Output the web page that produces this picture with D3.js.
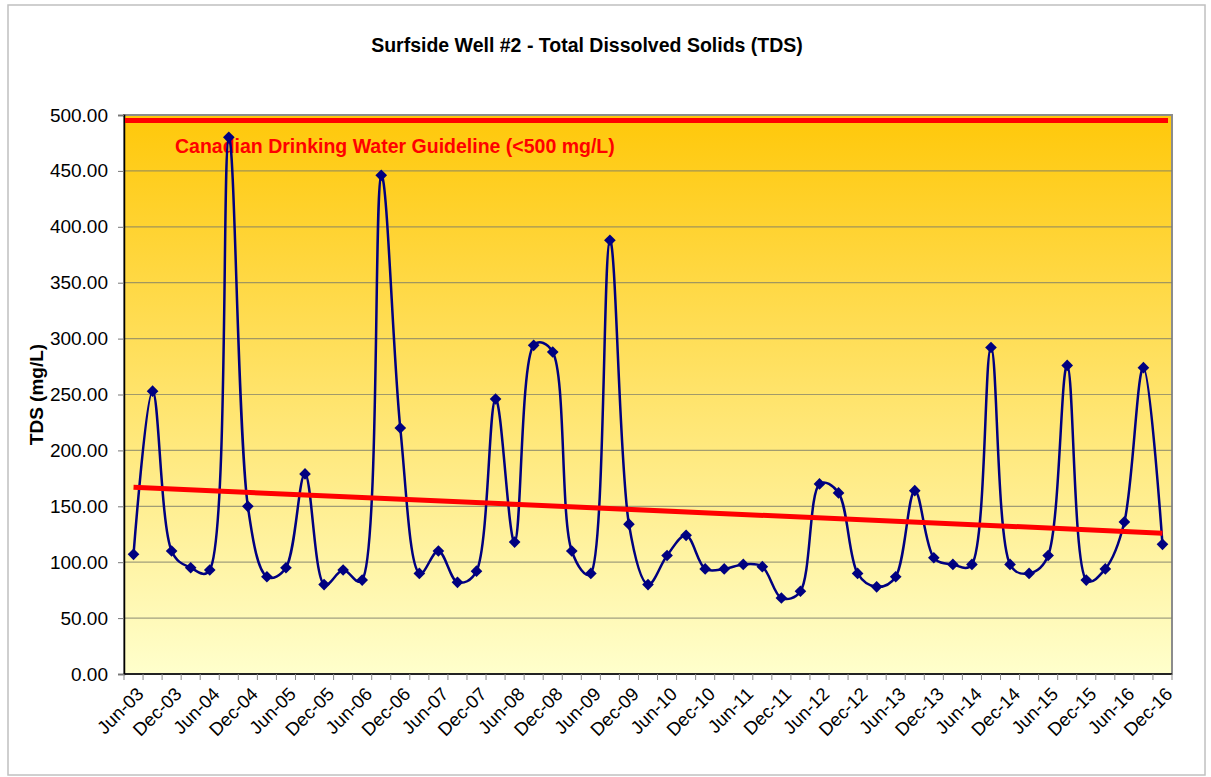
<!DOCTYPE html>
<html>
<head>
<meta charset="utf-8">
<script src="https://cdn.jsdelivr.net/npm/d3@7"></script>
<style>
  body { margin: 0; background: #fff; }
  svg { display: block; font-family: "Liberation Sans", Arial, sans-serif; }
</style>
</head>
<body>
<svg id="chart" width="1211" height="777"></svg>
<script>
// quarterly sample dates
var quarters = [
  "Jun-03","Sep-03","Dec-03","Mar-04","Jun-04","Sep-04","Dec-04","Mar-05","Jun-05","Sep-05",
  "Dec-05","Mar-06","Jun-06","Sep-06","Dec-06","Mar-07","Jun-07","Sep-07","Dec-07","Mar-08",
  "Jun-08","Sep-08","Dec-08","Mar-09","Jun-09","Sep-09","Dec-09","Mar-10","Jun-10","Sep-10",
  "Dec-10","Mar-11","Jun-11","Sep-11","Dec-11","Mar-12","Jun-12","Sep-12","Dec-12","Mar-13",
  "Jun-13","Sep-13","Dec-13","Mar-14","Jun-14","Sep-14","Dec-14","Mar-15","Jun-15","Sep-15",
  "Dec-15","Mar-16","Jun-16","Sep-16","Dec-16"
];

// TDS (mg/L)
var tds = [
  107, 253, 110, 95, 93, 480, 150, 87, 95, 179,
  80, 93, 84, 446, 220, 90, 110, 82, 92, 246,
  118, 294, 288, 110, 90, 388, 134, 80, 106, 124,
  94, 94, 98, 96, 68, 74, 170, 162, 90, 78,
  87, 164, 104, 98, 98, 292, 98, 90, 106, 276,
  84, 94, 136, 274, 116
];

// labels shown on the x axis (every second quarter)
var xTickLabels = [
  "Jun-03","Dec-03","Jun-04","Dec-04","Jun-05","Dec-05","Jun-06","Dec-06","Jun-07","Dec-07",
  "Jun-08","Dec-08","Jun-09","Dec-09","Jun-10","Dec-10","Jun-11","Dec-11","Jun-12","Dec-12",
  "Jun-13","Dec-13","Jun-14","Dec-14","Jun-15","Dec-15","Jun-16","Dec-16"
];

var yTicks = [0, 50, 100, 150, 200, 250, 300, 350, 400, 450, 500];

// linear trend (start, end) and guideline level
var trendValues = [167, 126];
var guidelineValue = 495;

var svg = d3.select("#chart"),
    margin = {top: 115, right: 39, bottom: 103, left: 124},
    width = 1211 - margin.left - margin.right,
    height = 777 - margin.top - margin.bottom;

// outer chart border
svg.append("rect")
    .attr("x", 8).attr("y", 5)
    .attr("width", 1197).attr("height", 770)
    .attr("fill", "#fff")
    .attr("stroke", "#c0c0c0")
    .attr("stroke-width", 1.5);

// title
svg.append("text")
    .attr("x", 587).attr("y", 52)
    .attr("text-anchor", "middle")
    .style("font-size", "19.5px")
    .style("font-weight", "bold")
    .text("Surfside Well #2 - Total Dissolved Solids (TDS)");

var defs = svg.append("defs");
var grad = defs.append("linearGradient")
    .attr("id", "bg").attr("x1", 0).attr("y1", 0).attr("x2", 0).attr("y2", 1);
grad.append("stop").attr("offset", "0%").attr("stop-color", "#ffc80a");
grad.append("stop").attr("offset", "100%").attr("stop-color", "#ffffcc");

var g = svg.append("g").attr("transform", "translate(" + margin.left + "," + margin.top + ")");

// scales
var x = d3.scaleBand().domain(quarters).range([0, width]).padding(0);
var y = d3.scaleLinear().domain([0, 500]).range([height, 0]);
var cx = function(q) { return x(q) + x.bandwidth() / 2; };

// plot background + border
g.append("rect")
    .attr("width", width).attr("height", height)
    .attr("fill", "url(#bg)")
    .attr("stroke", "#8c8c8c")
    .attr("stroke-width", 2);

// gridlines
g.append("g")
    .selectAll("line")
    .data(yTicks.filter(function(d) { return d > 0 && d < 500; }))
    .enter().append("line")
    .attr("x1", 0).attr("x2", width)
    .attr("y1", function(d) { return y(d); })
    .attr("y2", function(d) { return y(d); })
    .attr("stroke", "#7a7a6a")
    .attr("stroke-opacity", 0.7)
    .attr("stroke-width", 1.2);

// y axis
var yAxis = g.append("g")
    .call(d3.axisLeft(y).tickValues(yTicks).tickFormat(d3.format(".2f")).tickSize(6).tickPadding(10));
yAxis.select(".domain").attr("stroke", "#000").attr("stroke-width", 1.5);
yAxis.selectAll(".tick line").attr("stroke", "#777");
yAxis.selectAll("text").style("font-size", "19px").attr("fill", "#000").attr("font-family", null);

// axis title
svg.append("text")
    .attr("transform", "translate(43," + (margin.top + height / 2) + ") rotate(-90)")
    .attr("text-anchor", "middle")
    .style("font-size", "19px")
    .style("font-weight", "bold")
    .text("TDS (mg/L)");

// x axis line + ticks between categories
var xAxis = g.append("g").attr("transform", "translate(0," + height + ")");
xAxis.append("line")
    .attr("x1", 0).attr("x2", width)
    .attr("stroke", "#000").attr("stroke-width", 1.5);
xAxis.selectAll(".qtick")
    .data(quarters.concat([null]))
    .enter().append("line")
    .attr("class", "qtick")
    .attr("x1", function(d) { return d === null ? width : x(d); })
    .attr("x2", function(d) { return d === null ? width : x(d); })
    .attr("y1", 0).attr("y2", 6)
    .attr("stroke", "#888");
xAxis.selectAll(".xlabel")
    .data(xTickLabels)
    .enter().append("text")
    .attr("class", "xlabel")
    .attr("transform", function(d) { return "translate(" + (cx(d) + 2) + ",12) rotate(-45)"; })
    .attr("text-anchor", "end")
    .attr("dy", "0.7em")
    .style("font-size", "18.5px")
    .text(function(d) { return d; });

// guideline
g.append("line")
    .attr("x1", 1).attr("x2", width - 4)
    .attr("y1", y(guidelineValue)).attr("y2", y(guidelineValue))
    .attr("stroke", "#ff0000")
    .attr("stroke-width", 5);

g.append("text")
    .attr("x", 51).attr("y", 38)
    .attr("fill", "#ff0000")
    .style("font-size", "19.5px")
    .style("font-weight", "bold")
    .text("Canadian Drinking Water Guideline (<500 mg/L)");

// smoothed data line
var line = d3.line()
    .x(function(d, i) { return cx(quarters[i]); })
    .y(function(d) { return y(d); })
    .curve(d3.curveCatmullRom.alpha(0.4));

g.append("path")
    .datum(tds)
    .attr("d", line)
    .attr("fill", "none")
    .attr("stroke", "#000080")
    .attr("stroke-width", 2.5);

// trend line
g.append("line")
    .attr("x1", cx(quarters[0])).attr("x2", cx(quarters[quarters.length - 1]))
    .attr("y1", y(trendValues[0])).attr("y2", y(trendValues[1]))
    .attr("stroke", "#ff0000")
    .attr("stroke-width", 5);

// markers
g.selectAll(".pt")
    .data(tds)
    .enter().append("path")
    .attr("class", "pt")
    .attr("d", d3.symbol().type(d3.symbolSquare).size(68))
    .attr("transform", function(d, i) { return "translate(" + cx(quarters[i]) + "," + y(d) + ") rotate(45)"; })
    .attr("fill", "#000080");
</script>
</body>
</html>
